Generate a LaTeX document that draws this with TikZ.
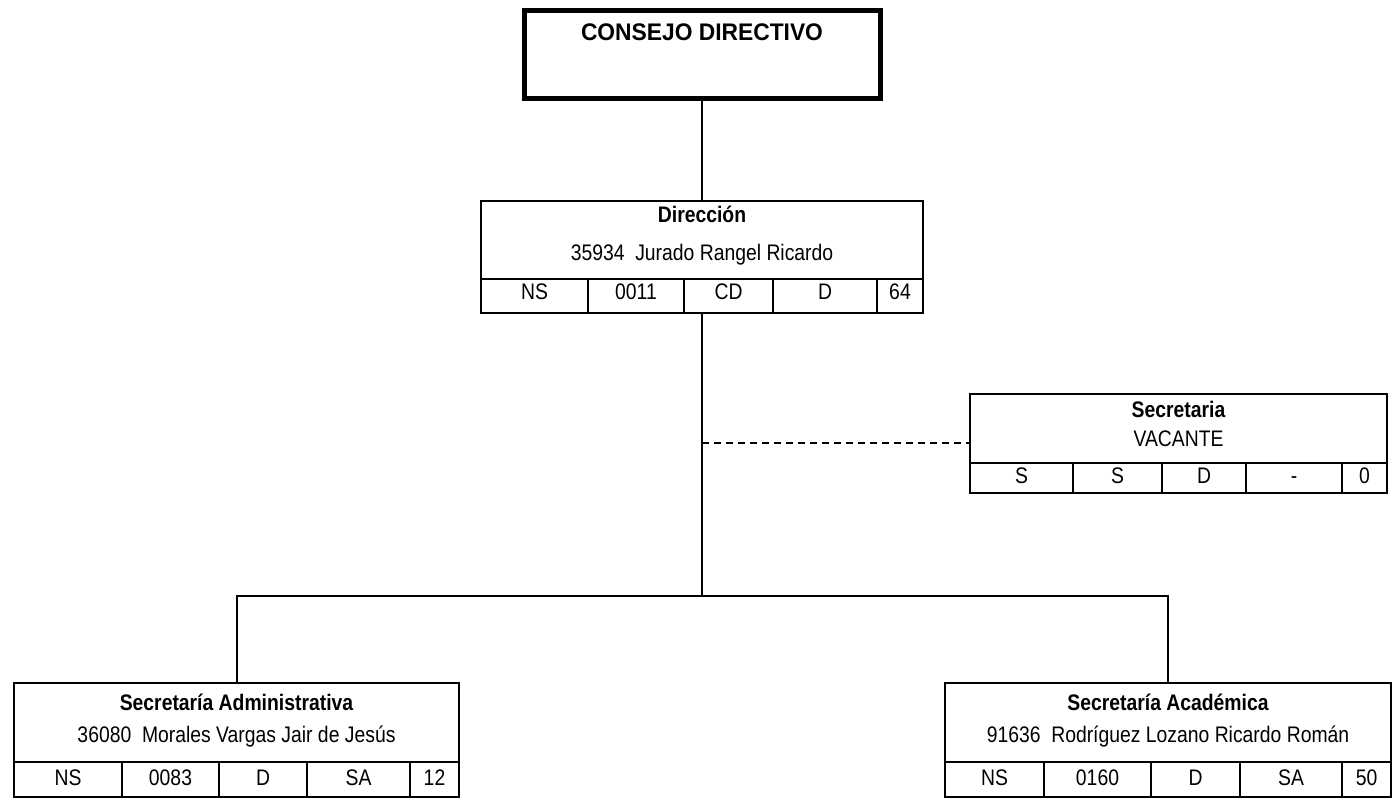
\documentclass[tikz,border=0pt]{standalone}
\usepackage{fontspec}
\setmainfont{Liberation Sans}
\newfontfamily\nar{Liberation Sans}[FakeStretch=0.86]
\newfontfamily\bignar{Liberation Sans}[FakeStretch=0.95]
\begin{document}
\begin{tikzpicture}[x=1pt,y=-1pt,
  box/.style={draw, line width=2.5pt, inner sep=0pt, outer sep=0pt, anchor=north west},
  bigbox/.style={draw, line width=5pt, inner sep=0pt, outer sep=0pt, anchor=north west},
  rule/.style={line width=2.5pt},
  link/.style={line width=2pt},
  dashlink/.style={line width=2pt, dash pattern=on 7pt off 5pt},
  big/.style={font=\bignar\bfseries\fontsize{24}{28}\selectfont, anchor=base, inner sep=0pt},
  ttl/.style={font=\nar\bfseries\fontsize{22.5}{26}\selectfont, anchor=base, inner sep=0pt},
  txt/.style={font=\nar\fontsize{22.5}{26}\selectfont, anchor=base, inner sep=0pt},
]
\useasboundingbox (0,0) rectangle (1393,799);

% Consejo Directivo
\node[bigbox, minimum width=356, minimum height=88] (cd) at (524,11) {};
\node[big] (cdt) at (702,41) {CONSEJO DIRECTIVO};

% Direccion
\node[box, minimum width=442, minimum height=112] (dir) at (481,201) {};
\draw[rule] (481,279) -- (923,279);
\foreach \c in {588,684,773,877} \draw[rule] (\c,279) -- (\c,313);
\node[ttl] (dirt) at (702,223) {Dirección};
\node[txt] (dirn) at (702,261) {35934\ \ Jurado Rangel Ricardo};
\node[txt] (dir1) at (534.5,300) {NS};
\node[txt] (dir2) at (636,300) {0011};
\node[txt] (dir3) at (728.5,300) {CD};
\node[txt] (dir4) at (825,300) {D};
\node[txt] (dir5) at (900,300) {64};

% Secretaria
\node[box, minimum width=417, minimum height=99] (sec) at (970,394) {};
\draw[rule] (970,463) -- (1387,463);
\foreach \c in {1073,1162,1246,1342} \draw[rule] (\c,463) -- (\c,493);
\node[ttl] (sect) at (1178.5,418) {Secretaria};
\node[txt] (secn) at (1178.5,447) {VACANTE};
\node[txt] (sec1) at (1021.5,484) {S};
\node[txt] (sec2) at (1117.5,484) {S};
\node[txt] (sec3) at (1204,484) {D};
\node[txt] (sec4) at (1294,484) {-};
\node[txt] (sec5) at (1364.5,484) {0};

% Secretaria Administrativa
\node[box, minimum width=445, minimum height=114] (sa) at (14,683) {};
\draw[rule] (14,762) -- (459,762);
\foreach \c in {122,219,307,410} \draw[rule] (\c,762) -- (\c,797);
\node[ttl] (sat) at (236.5,710) {Secretaría Administrativa};
\node[txt] (san) at (236.5,742) {36080\ \ Morales Vargas Jair de Jesús};
\node[txt] (sa1) at (68,785) {NS};
\node[txt] (sa2) at (170.5,785) {0083};
\node[txt] (sa3) at (263,785) {D};
\node[txt] (sa4) at (358.5,785) {SA};
\node[txt] (sa5) at (434.5,785) {12};

% Secretaria Academica
\node[box, minimum width=446, minimum height=114] (ac) at (945,683) {};
\draw[rule] (945,762) -- (1391,762);
\foreach \c in {1044,1151,1240,1342} \draw[rule] (\c,762) -- (\c,797);
\node[ttl] (act) at (1168,710) {Secretaría Académica};
\node[txt] (acn) at (1168,742) {91636\ \ Rodríguez Lozano Ricardo Román};
\node[txt] (ac1) at (994.5,785) {NS};
\node[txt] (ac2) at (1097.5,785) {0160};
\node[txt] (ac3) at (1195.5,785) {D};
\node[txt] (ac4) at (1291,785) {SA};
\node[txt] (ac5) at (1366.5,785) {50};

% connectors
\coordinate (jj) at ([yshift=-283pt]dir.south);
\coordinate (dj) at (dir.south |- sec.west);
\draw[link] (cd.south) -- (dir.north);
\draw[link] (dir.south) -- (jj);
\draw[dashlink] (dj) -- (sec.west);
\draw[link] (sa.north) -- (sa.north |- jj) -- (ac.north |- jj) -- (ac.north);
\end{tikzpicture}
\end{document}
